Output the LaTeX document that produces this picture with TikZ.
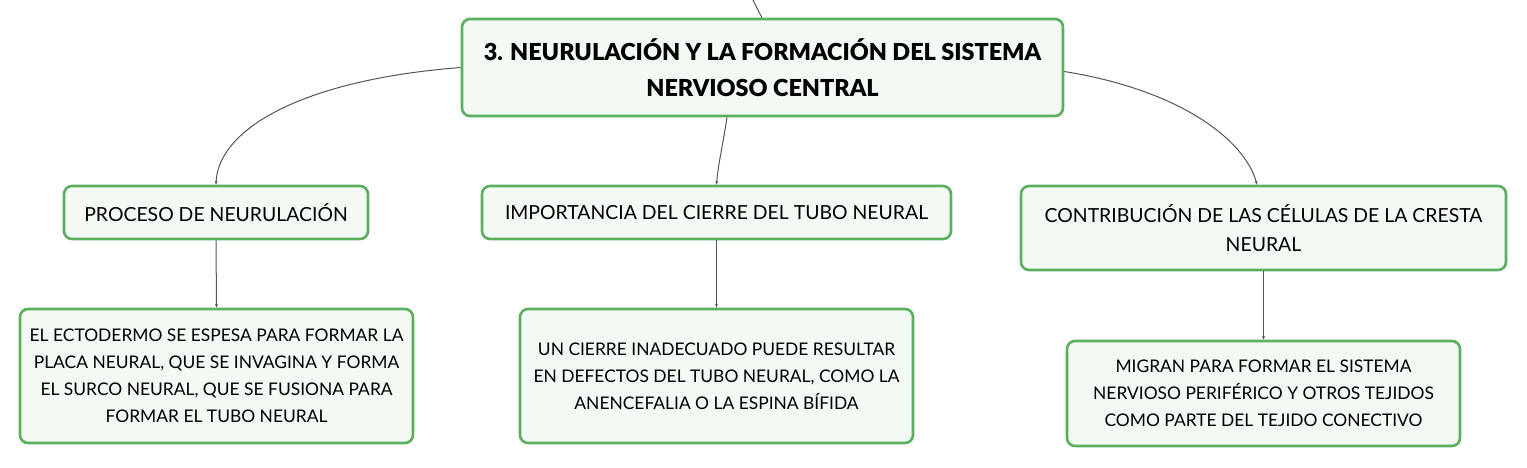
\documentclass[tikz,border=0pt]{standalone}
\usepackage{fontspec}
\setmainfont{Lato}
\newfontfamily\titlefont{Lato Black}
\usetikzlibrary{arrows.meta}
\definecolor{boxgreen}{HTML}{5BB05F}
\definecolor{boxfill}{HTML}{F3FAF4}
\definecolor{linkgray}{HTML}{555555}
\tikzset{
  box/.style={draw=boxgreen, line width=2.6pt, fill=boxfill, rounded corners=8pt, align=center, inner sep=0pt, text=black},
  link/.style={draw=linkgray, line width=1pt, -{Stealth[length=4pt,width=3pt]}},
  txt/.style={font=\fontsize{17.4}{27}\selectfont},
  ctxt/.style={font=\fontsize{19.4}{29}\selectfont},
}
\begin{document}
\begin{tikzpicture}[x=1pt,y=-1pt]
\useasboundingbox (0,0) rectangle (1527,467);
\node[box, minimum width=601pt, minimum height=97pt, font=\titlefont\fontsize{23.4}{36}\selectfont] (root) at (762.5,67.5)
  {3. NEURULACIÓN Y LA FORMACIÓN DEL SISTEMA\\NERVIOSO CENTRAL};
\node[box, ctxt, minimum width=304pt, minimum height=53pt] (c1) at (216,212.5) {PROCESO DE NEURULACIÓN};
\node[box, ctxt, minimum width=469pt, minimum height=53pt] (c2) at (716.5,212.5) {IMPORTANCIA DEL CIERRE DEL TUBO NEURAL};
\node[box, ctxt, minimum width=485pt, minimum height=84pt] (c3) at (1263.5,228) {CONTRIBUCIÓN DE LAS CÉLULAS DE LA CRESTA\\NEURAL};
\node[box, txt, minimum width=393pt, minimum height=134pt] (l1) at (216.5,376)
  {EL ECTODERMO SE ESPESA PARA FORMAR LA\\PLACA NEURAL, QUE SE INVAGINA Y FORMA\\EL SURCO NEURAL, QUE SE FUSIONA PARA\\FORMAR EL TUBO NEURAL};
\node[box, txt, minimum width=393pt, minimum height=134pt] (l2) at (716.5,376)
  {UN CIERRE INADECUADO PUEDE RESULTAR\\EN DEFECTOS DEL TUBO NEURAL, COMO LA\\ANENCEFALIA O LA ESPINA BÍFIDA};
\node[box, txt, minimum width=393pt, minimum height=105pt] (l3) at (1263.5,393.5)
  {MIGRAN PARA FORMAR EL SISTEMA\\NERVIOSO PERIFÉRICO Y OTROS TEJIDOS\\COMO PARTE DEL TEJIDO CONECTIVO};
\coordinate (up) at (752,-2);
\draw[draw=linkgray, line width=1pt] (up) .. controls (757,8) and (760,14) .. (root.north -| 762,0);
\draw[link] (root.west) .. controls (300,80) and (218,130) .. (c1.north);
\draw[link] (root.south -| 727,0) .. controls (722,150) and (718,165) .. (c2.north);
\draw[link] ([yshift=-4pt]root.east) .. controls (1180,90) and (1245,140) .. (c3.north -| 1257,0);
\draw[link] (c1.south) -- (l1.north);
\draw[link] (c2.south) -- (l2.north);
\draw[link] (c3.south) -- (l3.north);
\end{tikzpicture}
\end{document}
